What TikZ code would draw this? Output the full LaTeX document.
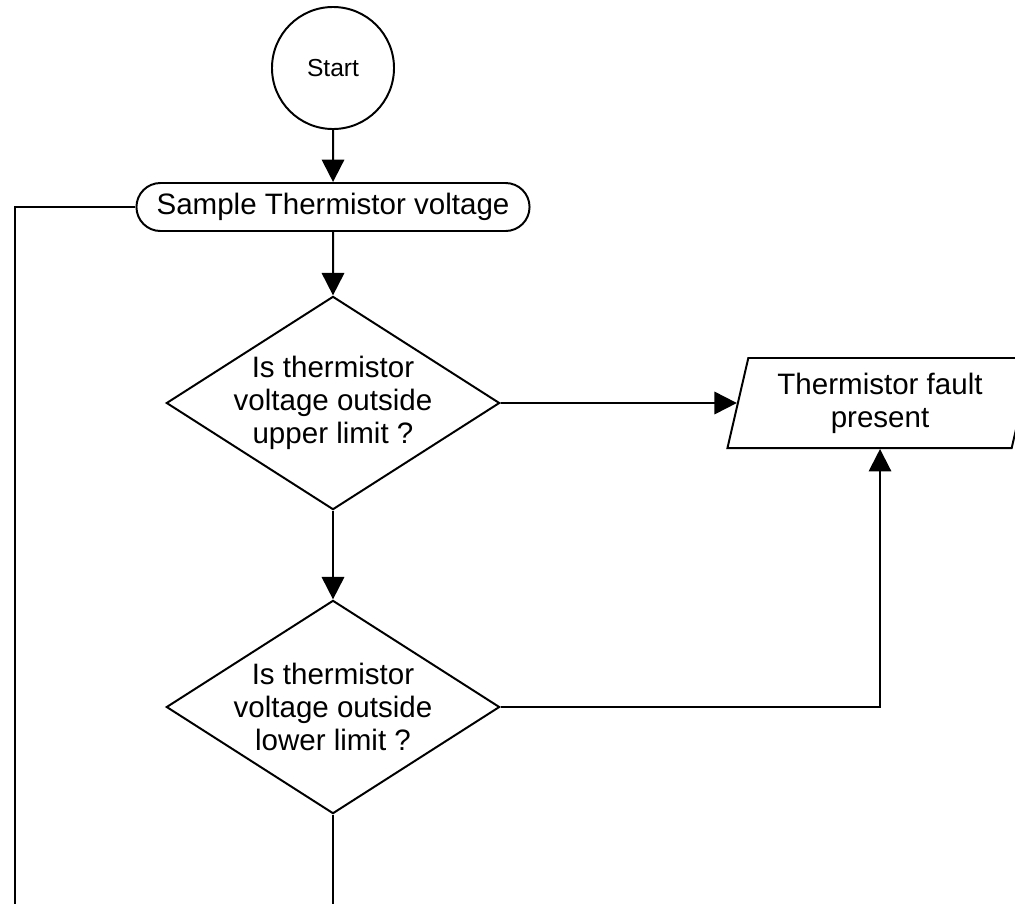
\documentclass[tikz,border=0pt]{standalone}
\usepackage{fontspec}
\setmainfont{Liberation Sans}
\usetikzlibrary{shapes.geometric, shapes.misc, arrows.meta}

\begin{document}
\begin{tikzpicture}[x=0.025cm, y=-0.025cm, line width=1.4pt,
    >={Triangle[length=0.56cm, width=0.56cm]},
    testo/.style={font=\fontsize{21}{23.5}\selectfont, align=center},
    inizio/.style={draw, circle, minimum size=3.05cm, inner sep=0pt, font=\fontsize{17.5}{20}\selectfont},
    processo/.style={draw, rounded rectangle, minimum width=9.825cm, minimum height=1.2cm, inner sep=0pt, testo},
    decisione/.style={draw, diamond, aspect=1.56, minimum width=8.33cm, minimum height=5.33cm, inner sep=-0.2cm, testo},
    uscita/.style={draw, trapezium, trapezium left angle=71, trapezium right angle=109, trapezium stretches body, minimum width=7.625cm, minimum height=2.25cm, inner sep=0pt, testo}]

    % Area del disegno
    \useasboundingbox (0,0) rectangle (1015,903);
    \clip (0,0) rectangle (1015,903);

    % Blocchi
    \node[inizio] (start) at (333,68) {Start};
    \node[processo] (sample) at (333,207) {Sample Thermistor voltage};
    \node[decisione] (dec1) at (333,403) {Is thermistor\\voltage outside\\upper limit ?};
    \node[decisione] (dec2) at (333,707) {Is thermistor\\voltage outside\\lower limit ?};
    \node[uscita] (fault) at (880,403) {Thermistor fault\\present};

    % Estremi liberi
    \coordinate (ritorno) at (15,915);
    \coordinate (fine) at (333,915);

    % Collegamenti
    \draw[->] (start) -- (sample);
    \draw[->] (sample) -- (dec1);
    \draw[->] (dec1) -- (fault);
    \draw[->] (dec1) -- (dec2);
    \draw[->] (dec2.east) -| (fault.south);
    \draw (dec2) -- (fine);
    \draw (sample.west) -| (ritorno);
\end{tikzpicture}
\end{document}
